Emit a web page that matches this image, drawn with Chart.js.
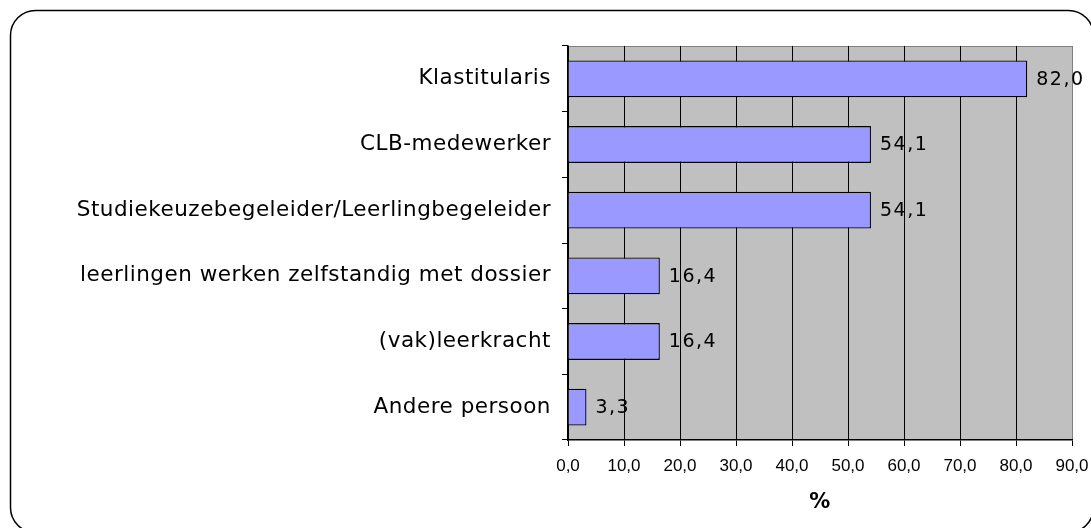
<!DOCTYPE html>
<html>
  <head>
    <meta charset="utf-8">
    <style>
      body { margin: 0; background: #fff; }
      #holder { width: 1091px; height: 528px; }
    </style>
  </head>
  <body>
    <div id="holder">
      <canvas id="chart-area"></canvas>
    </div>

    <script src="https://cdn.jsdelivr.net/npm/chart.js@4/dist/chart.umd.min.js"></script>
    <script>
      // values
      var categories = [
        'Klastitularis',
        'CLB-medewerker',
        'Studiekeuzebegeleider/Leerlingbegeleider',
        'leerlingen werken zelfstandig met dossier',
        '(vak)leerkracht',
        'Andere persoon'
      ];
      var percentages = [82.0, 54.1, 54.1, 16.4, 16.4, 3.3];
      var axisMax = 90;
      var axisStep = 10;
      var axisTitle = '%';

      var comma = function(v) {
        return Number(v).toFixed(1).replace('.', ',');
      };

      var LABEL_SPACING = '0.5px';
      var VALUE_SPACING = '1.5px';

      // frame, grey plot area, letter spacing and value labels
      var decor = {
        id: 'decor',
        beforeLayout: function(chart) {
          chart.ctx.letterSpacing = LABEL_SPACING;
        },
        beforeDraw: function(chart) {
          var ctx = chart.ctx;
          var a = chart.chartArea;
          ctx.letterSpacing = LABEL_SPACING;
          ctx.save();
          ctx.fillStyle = '#C0C0C0';
          ctx.fillRect(a.left, a.top, a.right - a.left, a.bottom - a.top);
          ctx.strokeStyle = '#808080';
          ctx.lineWidth = 1;
          ctx.beginPath();
          ctx.moveTo(a.left, a.top + 0.5);
          ctx.lineTo(a.right + 0.5, a.top + 0.5);
          ctx.lineTo(a.right + 0.5, a.bottom);
          ctx.stroke();
          // rounded outer frame
          ctx.strokeStyle = '#000';
          ctx.lineWidth = 1.5;
          ctx.beginPath();
          ctx.roundRect(10.5, 10.5, 1083, 522, 25);
          ctx.stroke();
          ctx.restore();
        },
        afterDatasetsDraw: function(chart) {
          var ctx = chart.ctx;
          var meta = chart.getDatasetMeta(0);
          ctx.letterSpacing = VALUE_SPACING;
          ctx.save();
          ctx.font = '19px "DejaVu Sans"';
          ctx.fillStyle = '#000';
          ctx.textAlign = 'left';
          ctx.textBaseline = 'middle';
          meta.data.forEach(function(bar, i) {
            ctx.fillText(comma(percentages[i]), bar.x + 9, bar.y + 1);
          });
          ctx.restore();
          // x tick labels come after this, without spacing
          ctx.letterSpacing = '0px';
        }
      };

      var ctx = document.getElementById('chart-area').getContext('2d');
      var chart = new Chart(ctx, {
        type: 'bar',
        data: {
          labels: categories,
          datasets: [{
            data: percentages,
            backgroundColor: '#9999FF',
            borderColor: '#000000',
            borderWidth: 1.3,
            barPercentage: 0.56,
            categoryPercentage: 1.0
          }]
        },
        options: {
          indexAxis: 'y',
          responsive: true,
          maintainAspectRatio: false,
          animation: false,
          layout: { padding: { top: 46, right: 19, left: 0, bottom: 0 } },
          plugins: {
            legend: { display: false },
            tooltip: { enabled: false }
          },
          scales: {
            x: {
              min: 0,
              max: axisMax,
              afterFit: function(scale) {
                scale.height = 88;
                scale.paddingLeft = 0;
                scale.paddingRight = 0;
              },
              ticks: {
                stepSize: axisStep,
                autoSkip: false,
                maxRotation: 0,
                padding: 10,
                z: 1,
                color: '#000',
                font: { family: '"Liberation Sans", Arial', size: 17 },
                callback: function(v) { return comma(v); }
              },
              grid: {
                color: function(c) { return c.tick && c.tick.value === axisMax ? '#808080' : '#000'; },
                tickColor: '#000',
                lineWidth: 1,
                tickLength: 6
              },
              border: { color: '#000', width: 1.5 },
              title: {
                display: true,
                text: axisTitle,
                color: '#000',
                font: { family: '"DejaVu Sans"', size: 21, weight: 'bold' },
                padding: { top: 4, bottom: 13 }
              }
            },
            y: {
              afterFit: function(scale) { scale.width = 568; },
              ticks: {
                padding: 11,
                color: '#000',
                font: { family: '"DejaVu Sans"', size: 21.5 }
              },
              grid: {
                offset: true,
                drawOnChartArea: false,
                tickColor: '#000',
                tickLength: 6
              },
              border: { color: '#000', width: 1.5 }
            }
          }
        },
        plugins: [decor]
      });
    </script>
  </body>
</html>
